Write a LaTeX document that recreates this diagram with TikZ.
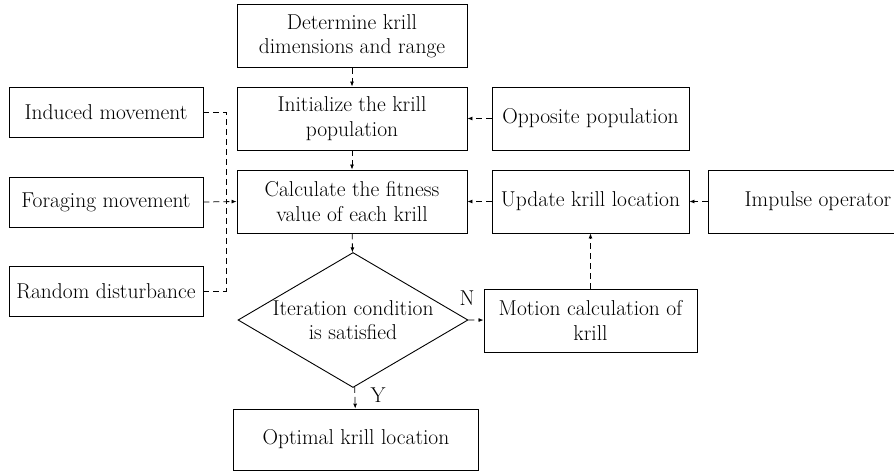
\documentclass[tikz,border=0pt]{standalone}
\usepackage{fontspec}
\usetikzlibrary{arrows.meta,shapes.geometric}
\begin{document}
\begin{tikzpicture}[x=1pt, y=-1pt, >={Latex[length=5pt,width=4pt]},
  box/.style={draw, line width=0.9pt, align=center, inner sep=2pt,
    minimum height=63pt, font=\fontsize{21.5}{24.5}\selectfont},
  sidebox/.style={box, minimum width=194pt, minimum height=50pt},
  link/.style={->, line width=0.8pt, dash pattern=on 6pt off 4pt}]
\useasboundingbox (0,0) rectangle (894,472);
% Main column
\node[box, minimum width=230pt] (dim) at (352,36) {Determine krill\\dimensions and range};
\node[box, minimum width=230pt] (init) at (352,118.5) {Initialize the krill\\population};
\node[box, minimum width=230pt] (fit) at (352,201.5) {Calculate the fitness\\value of each krill};
\node[draw, line width=0.9pt, diamond, aspect=1.7, inner sep=0pt, align=center,
  minimum width=230pt, minimum height=135pt, font=\fontsize{21.5}{24.5}\selectfont]
  (iter) at (353,320) {Iteration condition\\is satisfied};
\node[box, minimum width=245pt, minimum height=61pt] (best) at (356,439.5) {Optimal krill location};
\node[font=\fontsize{21.5}{24.5}\selectfont] (ylab) at (378,395) {Y};
\node[font=\fontsize{21.5}{24.5}\selectfont] (nlab) at (467,298) {N};
% Left side
\node[sidebox] (induced) at (106,112) {Induced movement};
\node[sidebox] (forage) at (106,202) {Foraging movement};
\node[sidebox] (random) at (106,291) {Random disturbance};
\coordinate (join) at (226,202);
% Right side
\node[box, minimum width=197pt] (opp) at (590.5,118.5) {Opposite population};
\node[box, minimum width=197pt] (upd) at (590.5,201.5) {Update krill location};
\node[box, minimum width=220pt] (imp) at (818,201.5) {Impulse operator};
\node[box, minimum width=213pt] (motion) at (590.5,320.5) {Motion calculation of\\krill};
% Connections
\draw[link] (dim) -- (init);
\draw[link] (init) -- (fit);
\draw[link] (fit) -- (iter);
\draw[link] (iter) -- (best);
\draw[link] (iter.east) -- (motion);
\draw[link] (motion) -- (upd);
\draw[link] (upd) -- (fit);
\draw[link] (opp) -- (init);
\draw[link] (imp) -- (upd);
\draw[link, -] (induced.east) -| (join);
\draw[link, -] (random.east) -| (join);
\draw[link] (forage.east) -- (fit.west);
\end{tikzpicture}
\end{document}
